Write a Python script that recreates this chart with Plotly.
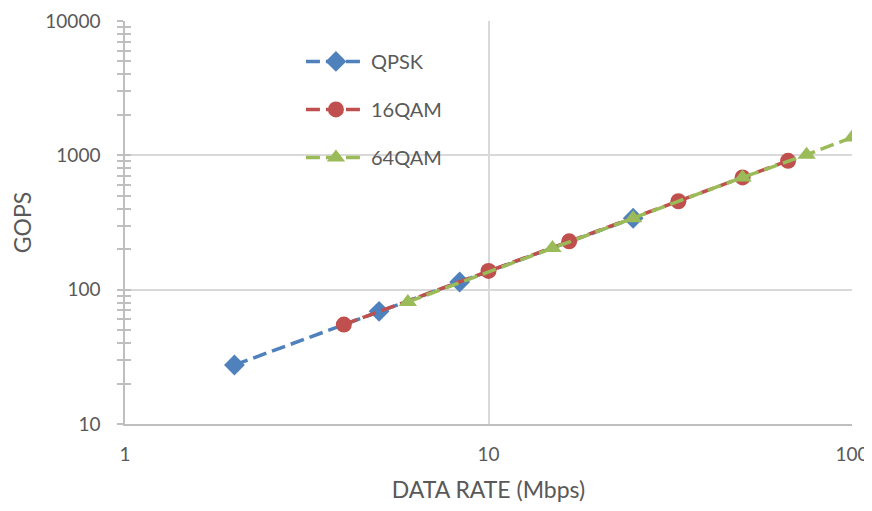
import plotly.graph_objects as go

# data (Mbps -> GOPS)
qpsk_rate = [2, 5, 8.33, 25]
qpsk_gops = [27.5, 69, 114, 340]
qam16_rate = [4, 10, 16.67, 33.3, 50, 66.7]
qam16_gops = [55, 138, 229, 455, 685, 910]
qam64_rate = [6, 15, 25, 50, 75, 100]
qam64_gops = [81, 204, 340, 685, 1010, 1360]

BLUE = "#4F81BD"
RED = "#C0504D"
GREEN = "#9BBB59"
GRID = "#d9d9d9"
AXIS = "#bfbfbf"
TXT = "#595959"

fig = go.Figure()

series = [
    ("QPSK", qpsk_rate, qpsk_gops, BLUE, "diamond", 16),
    ("16QAM", qam16_rate, qam16_gops, RED, "circle", 16),
    ("64QAM", qam64_rate, qam64_gops, GREEN, "triangle-up", 16),
]
for name, x, y, c, sym, sz in series:
    fig.add_trace(go.Scatter(
        x=x, y=y, name=name, legendgroup=name,
        mode="lines+markers",
        line=dict(color=c, width=3.5, dash="14px,6px"),
        marker=dict(color=c, symbol=sym, size=sz),
    ))

# invisible trace on an overlay axis so the y ticks cross the axis line
fig.add_trace(go.Scatter(x=[1], y=[10], yaxis="y2", mode="markers",
                         marker=dict(opacity=0), showlegend=False, hoverinfo="skip"))

# page body has an 8px margin, so the figure is a bit smaller than the window
fig.update_layout(
    width=864, height=495,
    paper_bgcolor="white", plot_bgcolor="white",
    font=dict(family="Lato", color=TXT, size=19),
    margin=dict(l=117, r=20, t=13, b=79),
    showlegend=True,
    legend=dict(x=0.242, y=0.948, xanchor="left", yanchor="top",
                bgcolor="rgba(0,0,0,0)", tracegroupgap=19,
                font=dict(size=20, color=TXT), itemwidth=60),
    xaxis=dict(
        type="log", range=[0, 2], tickvals=[1, 10, 100], ticktext=["1", "10", "100"],
        showgrid=True, gridcolor=GRID, gridwidth=1.5,
        showline=True, linecolor=AXIS, linewidth=1.5,
        ticks="", ticklabelstandoff=12, automargin=False,
        title=dict(text="DATA RATE (Mbps)", font=dict(size=23, color=TXT), standoff=20),
        zeroline=False,
    ),
    yaxis=dict(
        type="log", range=[1, 4], tickvals=[10, 100, 1000, 10000],
        ticktext=["10", "100", "1000", "10000"],
        showgrid=True, gridcolor=GRID, gridwidth=1.5,
        showline=True, linecolor=AXIS, linewidth=1.5,
        ticks="outside", ticklen=6, tickcolor=AXIS, tickwidth=1.5,
        minor=dict(ticks="outside", ticklen=6, tickcolor=AXIS, tickwidth=1.5,
                   dtick="D1", showgrid=False),
        ticklabelstandoff=13, automargin=False,
        title=dict(text="GOPS", font=dict(size=23, color=TXT), standoff=8),
        zeroline=False,
    ),
    yaxis2=dict(
        type="log", range=[1, 4], overlaying="y", side="left",
        tickvals=[10, 100, 1000, 10000], showticklabels=False,
        showgrid=False, ticks="inside", ticklen=6, tickcolor=AXIS, tickwidth=1.5,
        minor=dict(ticks="inside", ticklen=6, tickcolor=AXIS, tickwidth=1.5,
                   dtick="D1", showgrid=False),
        zeroline=False, automargin=False,
    ),
)

fig.write_html("out.html")
